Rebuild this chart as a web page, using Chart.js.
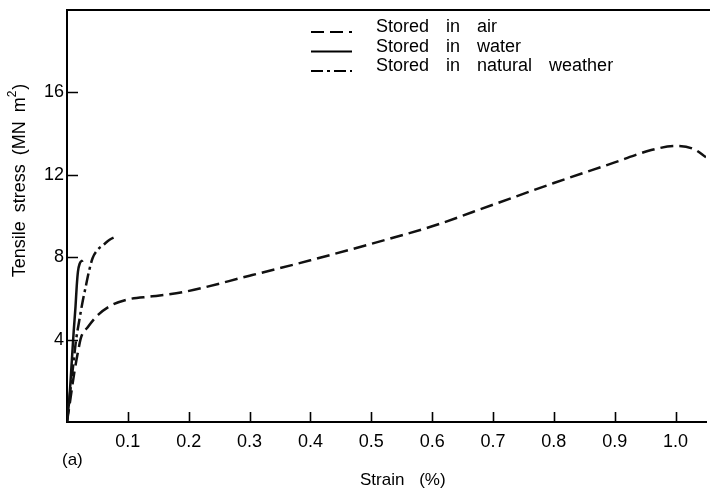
<!DOCTYPE html>
<html>
<head>
<meta charset="utf-8">
<script src="https://cdn.jsdelivr.net/npm/chart.js@4.4.0/dist/chart.umd.min.js"></script>
<style>
  html, body { margin: 0; padding: 0; background: #fff; }
</style>
</head>
<body>
<canvas id="chart" width="710" height="493"></canvas>
<script>
// strain (%) vs tensile stress (MN m-2)
const airStrain = [0, 0.006, 0.012, 0.018, 0.023, 0.034, 0.051, 0.072, 0.1, 0.14, 0.19, 0.3, 0.4, 0.5, 0.6, 0.7, 0.8, 0.9, 0.96, 1.0, 1.03, 1.05];
const airStress = [0, 1.2, 2.4, 3.4, 4.1, 4.6, 5.2, 5.65, 5.95, 6.1, 6.3, 7.1, 7.85, 8.65, 9.5, 10.55, 11.6, 12.6, 13.2, 13.4, 13.25, 12.85];

const waterStrain = [0, 0.004, 0.008, 0.011, 0.014, 0.016, 0.018, 0.021, 0.026];
const waterStress = [0, 1.2, 3.0, 4.4, 5.6, 6.6, 7.3, 7.7, 7.85];

const weatherStrain = [0, 0.005, 0.01, 0.015, 0.02, 0.026, 0.031, 0.036, 0.042, 0.05, 0.06, 0.07, 0.08];
const weatherStress = [0, 1.4, 2.7, 4.0, 4.9, 5.9, 6.6, 7.3, 7.95, 8.35, 8.6, 8.85, 9.0];

const seriesLabels = ['Stored in air', 'Stored in water', 'Stored in natural weather'];
const xTicks = [0.1, 0.2, 0.3, 0.4, 0.5, 0.6, 0.7, 0.8, 0.9, 1.0];
const yTicks = [4, 8, 12, 16];

const FONT = '"Liberation Sans", Arial, sans-serif';
const toPoints = (xs, ys) => xs.map((x, i) => ({ x: x, y: ys[i] }));

// inward tick marks, frame top line, legend, axis titles and the "(a)" tag
const extras = {
  id: 'extras',
  afterDraw(chart) {
    const { ctx, chartArea, scales } = chart;
    ctx.save();
    ctx.strokeStyle = '#000';
    ctx.fillStyle = '#000';

    ctx.lineWidth = 1.6;
    ctx.beginPath();
    xTicks.forEach(v => {
      const px = Math.round(scales.x.getPixelForValue(v)) + 0.5;
      ctx.moveTo(px, chartArea.bottom);
      ctx.lineTo(px, chartArea.bottom - 10);
    });
    yTicks.forEach(v => {
      const py = Math.round(scales.y.getPixelForValue(v)) + 0.5;
      ctx.moveTo(chartArea.left, py);
      ctx.lineTo(chartArea.left + 11, py);
    });
    ctx.stroke();

    ctx.lineWidth = 2;
    ctx.beginPath();
    ctx.moveTo(chartArea.left, chartArea.top);
    ctx.lineTo(chart.width, chartArea.top);
    ctx.stroke();

    // legend
    ctx.font = '18px ' + FONT;
    ctx.wordSpacing = '12px';
    ctx.textBaseline = 'alphabetic';
    ctx.textAlign = 'left';
    chart.data.datasets.forEach((ds, i) => {
      const y = 32 + i * 19.5;
      ctx.setLineDash(ds.borderDash || []);
      ctx.lineWidth = 2.2;
      ctx.beginPath();
      ctx.moveTo(311, y);
      ctx.lineTo(352, y);
      ctx.stroke();
      ctx.setLineDash([]);
      ctx.fillText(ds.label, 376, y);
    });

    // y title with superscript
    ctx.wordSpacing = '4px';
    ctx.textBaseline = 'middle';
    const main = 'Tensile stress (MN m';
    ctx.font = '18px ' + FONT;
    const w1 = ctx.measureText(main).width;
    const w3 = ctx.measureText(')').width;
    ctx.font = '12px ' + FONT;
    const w2 = ctx.measureText('2').width;
    const total = w1 + w2 + w3;
    ctx.translate(20, 181);
    ctx.rotate(-Math.PI / 2);
    const x0 = -total / 2;
    ctx.font = '18px ' + FONT;
    ctx.fillText(main, x0, 0);
    ctx.font = '12px ' + FONT;
    ctx.fillText('2', x0 + w1, -7);
    ctx.font = '18px ' + FONT;
    ctx.fillText(')', x0 + w1 + w2 + 1, 0);
    ctx.setTransform(1, 0, 0, 1, 0, 0);

    // x title
    ctx.font = '17px ' + FONT;
    ctx.wordSpacing = '10px';
    ctx.fillText('Strain (%)', 360, 480);
    ctx.wordSpacing = '0px';
    ctx.fillText('(a)', 62, 460);
    ctx.restore();
  }
};

new Chart(document.getElementById('chart'), {
  type: 'line',
  data: {
    datasets: [
      { label: seriesLabels[0], data: toPoints(airStrain, airStress), borderDash: [13, 6] },
      { label: seriesLabels[1], data: toPoints(waterStrain, waterStress), borderDash: [] },
      { label: seriesLabels[2], data: toPoints(weatherStrain, weatherStress), borderDash: [12, 4, 3, 4] }
    ]
  },
  options: {
    responsive: false,
    devicePixelRatio: 1,
    animation: false,
    layout: { padding: { top: 10, right: 4, left: 0, bottom: 0 } },
    elements: {
      line: { borderColor: '#111', borderWidth: 2.5, fill: false, cubicInterpolationMode: 'monotone' },
      point: { radius: 0, hoverRadius: 0 }
    },
    plugins: {
      legend: { display: false },
      tooltip: { enabled: false }
    },
    scales: {
      x: {
        type: 'linear',
        min: 0,
        max: 1.05,
        afterBuildTicks: s => { s.ticks = xTicks.map(v => ({ value: v })); },
        afterFit: s => { s.height = 71; s.paddingLeft = 0; s.paddingRight = 0; },
        ticks: {
          autoSkip: false,
          maxRotation: 0,
          padding: 9,
          color: '#000',
          font: { family: FONT, size: 18 },
          callback: v => Number(v).toFixed(1)
        },
        grid: { display: false, drawTicks: false },
        border: { display: true, color: '#000', width: 2 }
      },
      y: {
        min: 0,
        max: 20,
        afterBuildTicks: s => { s.ticks = yTicks.map(v => ({ value: v })); },
        afterFit: s => { s.width = 67; s.paddingTop = 0; s.paddingBottom = 0; },
        ticks: {
          padding: 3,
          color: '#000',
          font: { family: FONT, size: 18 },
          callback: v => String(v)
        },
        grid: { display: false, drawTicks: false },
        border: { display: true, color: '#000', width: 2 }
      }
    }
  },
  plugins: [extras]
});
</script>
</body>
</html>
